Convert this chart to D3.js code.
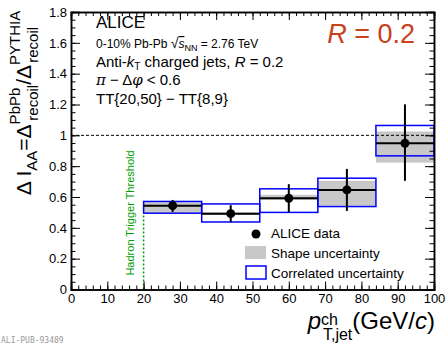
<!DOCTYPE html>
<html>
<head>
<meta charset="utf-8">
<script src="https://cdn.jsdelivr.net/npm/d3@7"></script>
<style>
  body { margin: 0; background: #fff; }
  svg { font-family: "Liberation Sans", Arial, sans-serif; }
</style>
</head>
<body>
<div id="chart"></div>
<script>
// bins in pT,jet (GeV/c)
var binLo = [20, 36, 52, 68, 84];
var binHi = [36, 52, 68, 84, 100];
var binMid = [28, 44, 60, 76, 92];
// Delta I_AA central values and statistical errors
var values = [0.544, 0.492, 0.592, 0.646, 0.949];
var statLo = [0.503, 0.436, 0.501, 0.510, 0.705];
var statHi = [0.581, 0.547, 0.683, 0.782, 1.201];
// shape uncertainty (grey)
var shapeLo = [0.497, 0.484, 0.581, 0.542, 0.823];
var shapeHi = [0.566, 0.501, 0.614, 0.705, 1.025];
// correlated uncertainty (blue boxes)
var corrLo = [0.495, 0.438, 0.500, 0.538, 0.867];
var corrHi = [0.571, 0.555, 0.653, 0.722, 1.064];
// axis ticks
var xTicks = [0, 10, 20, 30, 40, 50, 60, 70, 80, 90, 100];
var yTicks = [0, 0.2, 0.4, 0.6, 0.8, 1, 1.2, 1.4, 1.6, 1.8];
var triggerThreshold = 20;

var W = 446, H = 345;
var svg = d3.select("#chart").append("svg").attr("width", W).attr("height", H);

var x = d3.scaleLinear().domain([0, 100]).range([71, 434]);
var y = d3.scaleLinear().domain([0, 1.8]).range([289.5, 12]);

var xMinor = d3.range(0, 100.01, 2);
var yMinor = d3.range(0, 1.801, 0.05);

// shape uncertainty
svg.selectAll("rect.shape").data(values).enter().append("rect")
  .attr("class", "shape")
  .attr("x", function(d, i) { return x(binLo[i]); })
  .attr("width", function(d, i) { return x(binHi[i]) - x(binLo[i]); })
  .attr("y", function(d, i) { return y(shapeHi[i]); })
  .attr("height", function(d, i) { return y(shapeLo[i]) - y(shapeHi[i]); })
  .attr("fill", "#c8c8c8");

// correlated uncertainty
svg.selectAll("rect.corr").data(values).enter().append("rect")
  .attr("class", "corr")
  .attr("x", function(d, i) { return x(binLo[i]); })
  .attr("width", function(d, i) { return x(binHi[i]) - x(binLo[i]); })
  .attr("y", function(d, i) { return y(corrHi[i]); })
  .attr("height", function(d, i) { return y(corrLo[i]) - y(corrHi[i]); })
  .attr("fill", "none")
  .attr("stroke", "#0000ff")
  .attr("stroke-width", 1.5);

// dashed line at 1
svg.append("line")
  .attr("x1", x(0)).attr("x2", x(100))
  .attr("y1", y(1)).attr("y2", y(1))
  .attr("stroke", "#000").attr("stroke-width", 1)
  .attr("stroke-dasharray", "3,2");

// trigger threshold
svg.append("line")
  .attr("x1", x(triggerThreshold)).attr("x2", x(triggerThreshold))
  .attr("y1", y(0)).attr("y2", y(corrLo[0]))
  .attr("stroke", "#00a000").attr("stroke-width", 1.5)
  .attr("stroke-dasharray", "2,2");
svg.append("text")
  .attr("transform", "translate(" + (x(triggerThreshold) - 10) + "," + 213 + ") rotate(-90)")
  .attr("text-anchor", "middle")
  .attr("font-size", 11)
  .attr("fill", "#00a000")
  .text("Hadron Trigger Threshold");

// horizontal bin bars
svg.selectAll("line.hbar").data(values).enter().append("line")
  .attr("x1", function(d, i) { return x(binLo[i]); })
  .attr("x2", function(d, i) { return x(binHi[i]); })
  .attr("y1", function(d) { return y(d); })
  .attr("y2", function(d) { return y(d); })
  .attr("stroke", "#000").attr("stroke-width", 2);

// stat error bars
svg.selectAll("line.ebar").data(values).enter().append("line")
  .attr("x1", function(d, i) { return x(binMid[i]); })
  .attr("x2", function(d, i) { return x(binMid[i]); })
  .attr("y1", function(d, i) { return y(statLo[i]); })
  .attr("y2", function(d, i) { return y(statHi[i]); })
  .attr("stroke", "#000").attr("stroke-width", 2);

svg.selectAll("circle.pt").data(values).enter().append("circle")
  .attr("cx", function(d, i) { return x(binMid[i]); })
  .attr("cy", function(d) { return y(d); })
  .attr("r", 4.5)
  .attr("fill", "#000");

// axes
function styleAxis(g) {
  g.select(".domain").attr("stroke", "#000").attr("stroke-width", 1.5);
  g.selectAll(".tick line").attr("stroke", "#000");
  g.selectAll("text").attr("font-size", 13).attr("fill", "#000")
    .attr("font-family", "Liberation Sans, Arial, sans-serif");
}

svg.append("g").attr("transform", "translate(0," + y(0) + ")")
  .call(d3.axisBottom(x).tickValues(xTicks).tickSize(-8).tickPadding(4).tickFormat(d3.format("d")))
  .call(styleAxis);
svg.append("g").attr("transform", "translate(0," + y(0) + ")")
  .call(d3.axisBottom(x).tickValues(xMinor).tickSize(-4).tickFormat(""))
  .call(styleAxis);
svg.append("g").attr("transform", "translate(0," + y(1.8) + ")")
  .call(d3.axisTop(x).tickValues(xTicks).tickSize(-8).tickFormat(""))
  .call(styleAxis);
svg.append("g").attr("transform", "translate(0," + y(1.8) + ")")
  .call(d3.axisTop(x).tickValues(xMinor).tickSize(-4).tickFormat(""))
  .call(styleAxis);

svg.append("g").attr("transform", "translate(" + x(0) + ",0)")
  .call(d3.axisLeft(y).tickValues(yTicks).tickSize(-9).tickPadding(4)
    .tickFormat(function(d) { return d === 0 ? "0" : d === 1 ? "1" : d.toFixed(1); }))
  .call(styleAxis);
svg.append("g").attr("transform", "translate(" + x(0) + ",0)")
  .call(d3.axisLeft(y).tickValues(yMinor).tickSize(-4.5).tickFormat(""))
  .call(styleAxis);
svg.append("g").attr("transform", "translate(" + x(100) + ",0)")
  .call(d3.axisRight(y).tickValues(yTicks).tickSize(-9).tickFormat(""))
  .call(styleAxis);
svg.append("g").attr("transform", "translate(" + x(100) + ",0)")
  .call(d3.axisRight(y).tickValues(yMinor).tickSize(-4.5).tickFormat(""))
  .call(styleAxis);

// axis titles
var xt = svg.append("text")
  .attr("x", 435).attr("y", 328.5)
  .attr("text-anchor", "end")
  .attr("font-size", 24);
xt.append("tspan").attr("font-style", "italic").text("p");
xt.append("tspan").attr("font-size", 16).attr("dy", -4).text("ch");
xt.append("tspan").attr("font-size", 16).attr("dx", -15).attr("dy", 15).text("T,jet");
xt.append("tspan").attr("dy", -11).text("(GeV/");
xt.append("tspan").attr("font-style", "italic").text("c");
xt.append("tspan").text(")");

var yt = svg.append("text")
  .attr("transform", "translate(31,103) rotate(-90)")
  .attr("text-anchor", "middle")
  .attr("font-size", 21);
yt.append("tspan").text("Δ I");
yt.append("tspan").attr("font-size", 15).attr("dy", 6).text("AA");
yt.append("tspan").attr("dy", -6).text("=Δ");
yt.append("tspan").attr("font-size", 15).attr("dy", -11).text("PbPb");
yt.append("tspan").attr("font-size", 15).attr("dx", -33).attr("dy", 18).text("recoil");
yt.append("tspan").attr("dy", -7).text("/Δ");
yt.append("tspan").attr("font-size", 15).attr("dy", -11).text("PYTHIA");
yt.append("tspan").attr("font-size", 15).attr("dx", -52).attr("dy", 18).text("recoil");

// annotations
svg.append("text").attr("x", 96).attr("y", 28).attr("font-size", 17).text("ALICE");
var t2 = svg.append("text").attr("x", 96).attr("y", 48).attr("font-size", 12);
t2.append("tspan").text("0-10% Pb-Pb ");
t2.append("tspan").attr("font-size", 14).text("√");
t2.append("tspan").attr("font-style", "italic").attr("text-decoration", "overline").text("s");
t2.append("tspan").attr("font-size", 9).attr("dy", 3).text("NN");
t2.append("tspan").attr("dy", -3).text(" = 2.76 TeV");
var t3 = svg.append("text").attr("x", 96).attr("y", 67).attr("font-size", 15);
t3.append("tspan").text("Anti-");
t3.append("tspan").attr("font-style", "italic").text("k");
t3.append("tspan").attr("font-size", 10).attr("dy", 3).text("T");
t3.append("tspan").attr("dy", -3).text(" charged jets, ");
t3.append("tspan").attr("font-style", "italic").text("R");
t3.append("tspan").text(" = 0.2");
var t4 = svg.append("text").attr("x", 96).attr("y", 85).attr("font-size", 15);
t4.append("tspan").attr("font-style", "italic").attr("font-family", "DejaVu Serif, serif").text("π");
t4.append("tspan").text(" − Δ");
t4.append("tspan").attr("font-style", "italic").attr("font-family", "DejaVu Serif, serif").text("φ");
t4.append("tspan").text(" < 0.6");
svg.append("text").attr("x", 96).attr("y", 104).attr("font-size", 15).text("TT{20,50} − TT{8,9}");

var rt = svg.append("text").attr("x", 415).attr("y", 43).attr("text-anchor", "end")
  .attr("font-size", 27).attr("fill", "#c8421c");
rt.append("tspan").attr("font-style", "italic").text("R");
rt.append("tspan").text(" = 0.2");

// legend
var lg = svg.append("g");
lg.append("circle").attr("cx", 256).attr("cy", 234).attr("r", 4.5).attr("fill", "#000");
lg.append("rect").attr("x", 245).attr("y", 246).attr("width", 21).attr("height", 13).attr("fill", "#c8c8c8");
lg.append("rect").attr("x", 246).attr("y", 266).attr("width", 20).attr("height", 13)
  .attr("fill", "none").attr("stroke", "#0000ff").attr("stroke-width", 1.5);
var legendLabels = ["ALICE data", "Shape uncertainty", "Correlated uncertainty"];
lg.selectAll("text").data(legendLabels).enter().append("text")
  .attr("x", 271).attr("y", function(d, i) { return 238 + i * 20; })
  .attr("font-size", 13.5).text(function(d) { return d; });

svg.append("text").attr("x", 1).attr("y", 343)
  .attr("font-family", "DejaVu Sans Mono, monospace").attr("font-size", 8)
  .attr("fill", "#999").text("ALI-PUB-93489");
</script>
</body>
</html>
